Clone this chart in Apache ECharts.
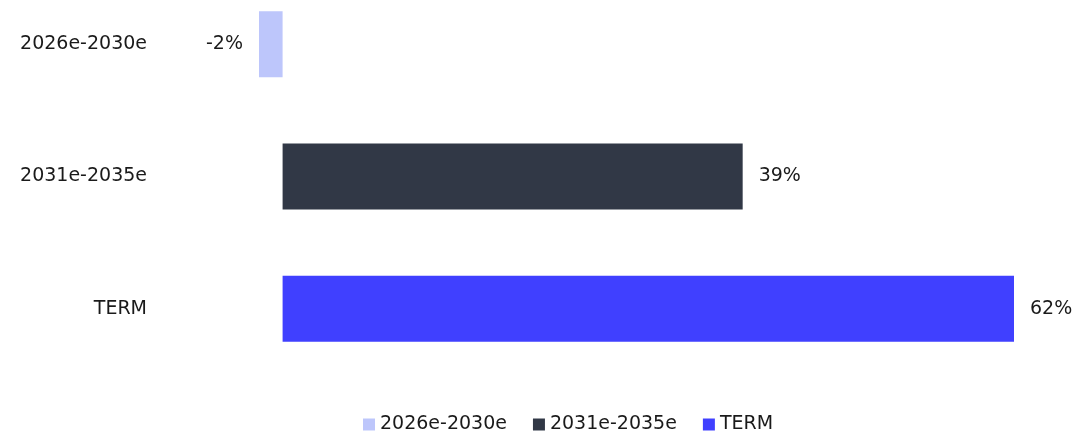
<!DOCTYPE html>
<html>
<head>
<meta charset="utf-8">
<script src="https://cdn.jsdelivr.net/npm/echarts@6/dist/echarts.min.js"></script>
<style>
  html, body { margin: 0; padding: 0; background: #ffffff; }
  #chart { width: 1073px; height: 431px; }
</style>
</head>
<body>
<div id="chart"></div>
<script>
// Period categories, top to bottom
const categories = ['2026e-2030e', '2031e-2035e', 'TERM'];
// Growth per period, in percent
const values = [-2, 39, 62];
const colors = ['#BDC6FB', '#313846', '#4040FF'];

const FONT = '"DejaVu Sans", "Noto Sans", sans-serif';
const FONT_SIZE = 19;

// One series per period so each gets its own legend entry
const series = categories.map((name, i) => ({
  name: name,
  type: 'bar',
  stack: 'all',
  barWidth: 66,
  itemStyle: { color: colors[i] },
  label: {
    show: true,
    position: values[i] < 0 ? 'left' : 'right',
    distance: 16,
    formatter: p => p.value + '%',
    color: '#1a1a1a',
    fontFamily: FONT,
    fontSize: FONT_SIZE
  },
  data: categories.map((c, j) => (j === i ? values[i] : '-'))
}));

const chart = echarts.init(document.getElementById('chart'));
chart.setOption({
  animation: false,
  grid: { left: 259, right: 59, top: -22, bottom: 56, outerBoundsMode: 'none' },
  xAxis: {
    type: 'value',
    min: -2,
    max: 62,
    show: false
  },
  yAxis: {
    type: 'category',
    data: categories,
    inverse: true,
    axisLine: { show: false },
    axisTick: { show: false },
    splitLine: { show: false },
    axisLabel: {
      margin: 112,
      color: '#1a1a1a',
      fontFamily: FONT,
      fontSize: FONT_SIZE
    }
  },
  legend: {
    top: 410,
    left: 358,
    itemWidth: 12,
    itemHeight: 12,
    itemGap: 26,
    icon: 'rect',
    textStyle: { color: '#1a1a1a', fontFamily: FONT, fontSize: FONT_SIZE },
    data: categories
  },
  series: series
});
</script>
</body>
</html>
